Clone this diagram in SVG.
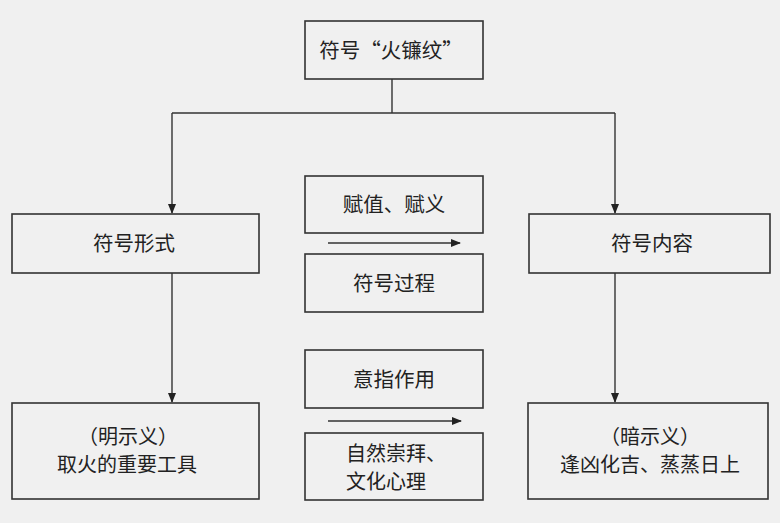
<svg xmlns="http://www.w3.org/2000/svg" width="780" height="523" viewBox="0 0 780 523">
<defs>
<marker id="ah" markerWidth="10" markerHeight="8" refX="9" refY="4" orient="auto" markerUnits="userSpaceOnUse">
<path d="M0,0 L10,4 L0,8 z" fill="#222"/>
</marker>
<style>
.box{fill:none;stroke:#333;stroke-width:1.6}
.t{font-family:"Noto Sans CJK SC","Noto Sans",sans-serif;font-size:20.5px;fill:#222;text-anchor:middle}
.m{font-size:20px}
.l{text-anchor:start}
.ln{fill:none;stroke:#333;stroke-width:1.4}
</style>
</defs>
<rect width="780" height="523" fill="#f0f0f0"/>
<g id="connectors">
<path class="ln" d="M392,79 V113"/>
<path class="ln" d="M172,113 H615"/>
<path class="ln" d="M172,113 V213" marker-end="url(#ah)"/>
<path class="ln" d="M615,113 V213" marker-end="url(#ah)"/>
<path class="ln" d="M172,273 V402" marker-end="url(#ah)"/>
<path class="ln" d="M615,273 V402" marker-end="url(#ah)"/>
<path class="ln" d="M328,243 H460" marker-end="url(#ah)"/>
<path class="ln" d="M328,421 H461" marker-end="url(#ah)"/>
</g>
<g id="top">
<rect class="box" x="305" y="21" width="178" height="58"/>
<text class="t" x="391" y="58">符号“火镰纹”</text>
</g>
<g id="form">
<rect class="box" x="12" y="214" width="247" height="59"/>
<text class="t" x="134" y="251">符号形式</text>
</g>
<g id="content">
<rect class="box" x="529" y="214" width="241" height="59"/>
<text class="t" x="652" y="251">符号内容</text>
</g>
<g id="assign">
<rect class="box" x="305" y="176" width="178" height="57"/>
<text class="t" x="394" y="212">赋值、赋义</text>
</g>
<g id="process">
<rect class="box" x="305" y="254" width="178" height="58"/>
<text class="t" x="394" y="291">符号过程</text>
</g>
<g id="signify">
<rect class="box" x="305" y="350" width="178" height="58"/>
<text class="t" x="394" y="387">意指作用</text>
</g>
<g id="nature">
<rect class="box" x="305" y="433" width="178" height="67"/>
<text class="t m l" x="346" y="461">自然崇拜、</text>
<text class="t m l" x="346" y="489">文化心理</text>
</g>
<g id="denote">
<rect class="box" x="12" y="403" width="247" height="96"/>
<text class="t m" x="128" y="444">（明示义）</text>
<text class="t m" x="127" y="472">取火的重要工具</text>
</g>
<g id="connote">
<rect class="box" x="528" y="403" width="240" height="96"/>
<text class="t m" x="650" y="444">（暗示义）</text>
<text class="t m" x="650" y="472">逢凶化吉、蒸蒸日上</text>
</g>
</svg>
